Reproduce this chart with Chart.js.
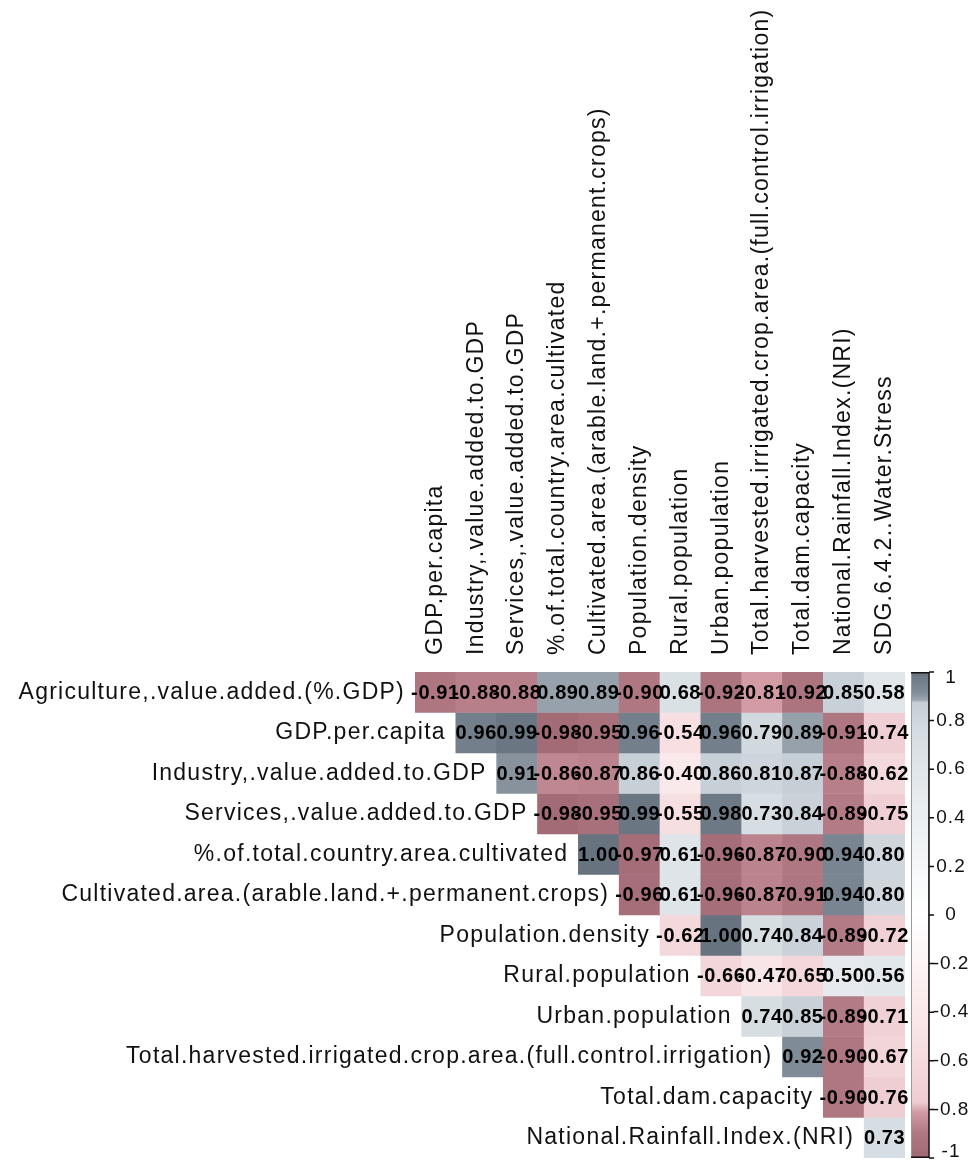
<!DOCTYPE html>
<html>
<head>
<meta charset="utf-8">
<script src="https://cdn.jsdelivr.net/npm/chart.js@4/dist/chart.umd.min.js"></script>
<style>
  html, body { margin: 0; padding: 0; background: #ffffff; }
  #wrap { width: 973px; height: 1165px; position: relative; }
</style>
</head>
<body>
<div id="wrap"><canvas id="corr" width="973" height="1165"></canvas></div>
<script>
// Variable names (rows run down the left, columns run across the top)
const rowNames = [
  'Agriculture,.value.added.(%.GDP)',
  'GDP.per.capita',
  'Industry,.value.added.to.GDP',
  'Services,.value.added.to.GDP',
  '%.of.total.country.area.cultivated',
  'Cultivated.area.(arable.land.+.permanent.crops)',
  'Population.density',
  'Rural.population',
  'Urban.population',
  'Total.harvested.irrigated.crop.area.(full.control.irrigation)',
  'Total.dam.capacity',
  'National.Rainfall.Index.(NRI)'
];
const colNames = [
  'GDP.per.capita',
  'Industry,.value.added.to.GDP',
  'Services,.value.added.to.GDP',
  '%.of.total.country.area.cultivated',
  'Cultivated.area.(arable.land.+.permanent.crops)',
  'Population.density',
  'Rural.population',
  'Urban.population',
  'Total.harvested.irrigated.crop.area.(full.control.irrigation)',
  'Total.dam.capacity',
  'National.Rainfall.Index.(NRI)',
  'SDG.6.4.2..Water.Stress'
];

// Upper-triangle correlations, one array per row (starting at the column right of the diagonal)
const agricultureCorr   = [-0.91, -0.88, -0.88, 0.89, 0.89, -0.90, 0.68, -0.92, -0.81, -0.92, 0.85, 0.58];
const gdpCorr           = [0.96, 0.99, -0.98, -0.95, 0.96, -0.54, 0.96, 0.79, 0.89, -0.91, -0.74];
const industryCorr      = [0.91, -0.86, -0.87, 0.86, -0.40, 0.86, 0.81, 0.87, -0.88, -0.62];
const servicesCorr      = [-0.98, -0.95, 0.99, -0.55, 0.98, 0.73, 0.84, -0.89, -0.75];
const pctCultivatedCorr = [1.00, -0.97, 0.61, -0.96, -0.87, -0.90, 0.94, 0.80];
const cultivatedCorr    = [-0.96, 0.61, -0.96, -0.87, -0.91, 0.94, 0.80];
const popDensityCorr    = [-0.62, 1.00, 0.74, 0.84, -0.89, -0.72];
const ruralCorr         = [-0.66, -0.47, -0.65, 0.50, 0.56];
const urbanCorr         = [0.74, 0.85, -0.89, -0.71];
const irrigatedCorr     = [0.92, -0.90, -0.67];
const damCorr           = [-0.90, -0.76];
const rainfallCorr      = [0.73];

const corrRows = [agricultureCorr, gdpCorr, industryCorr, servicesCorr, pctCultivatedCorr,
  cultivatedCorr, popDensityCorr, ruralCorr, urbanCorr, irrigatedCorr, damCorr, rainfallCorr];

// Colour legend ticks
const legendTickValues = [1, 0.8, 0.6, 0.4, 0.2, 0, -0.2, -0.4, -0.6, -0.8, -1];
const legendTickLabels = ['1', '0.8', '0.6', '0.4', '0.2', '0', '-0.2', '-0.4', '-0.6', '-0.8', '-1'];

// Diverging palette: slate grey for positive, muted rose for negative
const posStops = [[0, '#ffffff'], [0.45, '#e9edf0'], [0.75, '#d6dde2'], [0.875, '#c5cdd5'],
  [0.885, '#9aa5af'], [0.92, '#7f8b96'], [1, '#67737e']];
const negStops = [[0, '#ffffff'], [0.45, '#f9e6e8'], [0.6, '#f5dbde'], [0.77, '#eecdd1'],
  [0.81, '#d39ca5'], [0.86, '#bf8791'], [0.9, '#af7781'], [0.99, '#a26a75'], [1, '#8c5663']];

function hexToRgb(h) {
  const n = parseInt(h.slice(1), 16);
  return [(n >> 16) & 255, (n >> 8) & 255, n & 255];
}
function colorFor(v) {
  const stops = v >= 0 ? posStops : negStops;
  const a = Math.min(1, Math.abs(v));
  for (let k = 1; k < stops.length; k++) {
    if (a <= stops[k][0]) {
      const [a0, c0] = stops[k - 1], [a1, c1] = stops[k];
      const t = (a - a0) / (a1 - a0 || 1);
      const p = hexToRgb(c0), q = hexToRgb(c1);
      const r = p.map((x, i) => Math.round(x + (q[i] - x) * t));
      return `rgb(${r[0]},${r[1]},${r[2]})`;
    }
  }
  return stops[stops.length - 1][1];
}

const LABEL_FONT = '23px "Liberation Sans", Arial, Helvetica, sans-serif';
const VALUE_FONT = 'bold 20px "Liberation Sans", Arial, Helvetica, sans-serif';

const datasets = corrRows.map((vals, i) => ({
  label: rowNames[i],
  data: colNames.map((_, j) => (j >= i ? [i, i + 1] : null)),
  corrValues: colNames.map((_, j) => (j >= i ? vals[j - i] : null)),
  backgroundColor: colNames.map((_, j) => (j >= i ? colorFor(vals[j - i]) : 'rgba(0,0,0,0)')),
  borderWidth: 0,
  barPercentage: 1,
  categoryPercentage: 1,
  grouped: false
}));

// Draws the row / column names, the coefficients and the colour legend
const corrLabels = {
  id: 'corrLabels',
  afterDraw(chart) {
    const { ctx, chartArea, scales } = chart;
    const xs = scales.x, ys = scales.y;
    const cellW = (chartArea.right - chartArea.left) / colNames.length;
    ctx.save();
    ctx.fillStyle = '#111111';

    // row names, ending just left of each row's first cell
    ctx.font = LABEL_FONT;
    ctx.letterSpacing = '1.25px';
    ctx.textAlign = 'right';
    ctx.textBaseline = 'middle';
    rowNames.forEach((name, i) => {
      const x = xs.getPixelForValue(i) - cellW / 2 - 10;
      const y = ys.getPixelForValue(i + 0.5);
      ctx.fillText(name, x, y);
    });

    // column names, rotated, reading upward
    ctx.textAlign = 'left';
    colNames.forEach((name, j) => {
      ctx.save();
      ctx.translate(xs.getPixelForValue(j), chartArea.top - 17);
      ctx.rotate(-Math.PI / 2);
      ctx.fillText(name, 0, 0);
      ctx.restore();
    });

    // coefficients centred in the cells
    ctx.font = VALUE_FONT;
    ctx.letterSpacing = '0.6px';
    ctx.textAlign = 'center';
    ctx.fillStyle = '#000000';
    chart.data.datasets.forEach((ds, i) => {
      const meta = chart.getDatasetMeta(i);
      meta.data.forEach((el, j) => {
        const v = ds.corrValues[j];
        if (v === null) return;
        ctx.fillText(v.toFixed(2), el.x, (el.y + el.base) / 2 + 1);
      });
    });

    // colour legend
    const lx = 911, lw = 18, top = chartArea.top, bottom = chartArea.bottom;
    const span = bottom - top;
    for (let p = 0; p < span; p++) {
      const v = 1 - 2 * (p + 0.5) / span;
      ctx.fillStyle = colorFor(v);
      ctx.fillRect(lx, top + p, lw, 1);
    }
    ctx.strokeStyle = '#9a9a9a';
    ctx.lineWidth = 1;
    ctx.strokeRect(lx + 0.5, top + 0.5, lw - 1, span - 1);
    ctx.strokeStyle = '#111111';
    ctx.lineWidth = 1.5;
    ctx.beginPath();
    ctx.moveTo(lx + lw, top);
    ctx.lineTo(lx + lw, bottom);
    ctx.moveTo(lx, top + 0.75);
    ctx.lineTo(lx + lw, top + 0.75);
    ctx.moveTo(lx, bottom - 0.75);
    ctx.lineTo(lx + lw, bottom - 0.75);
    legendTickValues.forEach(v => {
      const y = top + (1 - v) / 2 * span;
      ctx.moveTo(lx + lw, y);
      ctx.lineTo(lx + lw + 5, y);
    });
    ctx.stroke();
    ctx.font = '19px "Liberation Sans", Arial, Helvetica, sans-serif';
    ctx.letterSpacing = '1px';
    ctx.fillStyle = '#111111';
    ctx.textAlign = 'center';
    legendTickLabels.forEach((t, k) => {
      const v = legendTickValues[k];
      let y = top + (1 - v) / 2 * span;
      y = Math.max(top + 6, Math.min(bottom - 6, y));
      ctx.fillText(t, 951, y);
    });
    ctx.restore();
  }
};

new Chart(document.getElementById('corr'), {
  type: 'bar',
  data: { labels: colNames, datasets },
  options: {
    responsive: false,
    animation: false,
    devicePixelRatio: 1,
    layout: { padding: { left: 415, right: 68, top: 672, bottom: 7 } },
    scales: {
      x: { type: 'category', display: false, offset: true, grid: { display: false } },
      y: { type: 'linear', display: false, min: 0, max: 12, reverse: true }
    },
    plugins: { legend: { display: false }, tooltip: { enabled: false } }
  },
  plugins: [corrLabels]
});
</script>
</body>
</html>
